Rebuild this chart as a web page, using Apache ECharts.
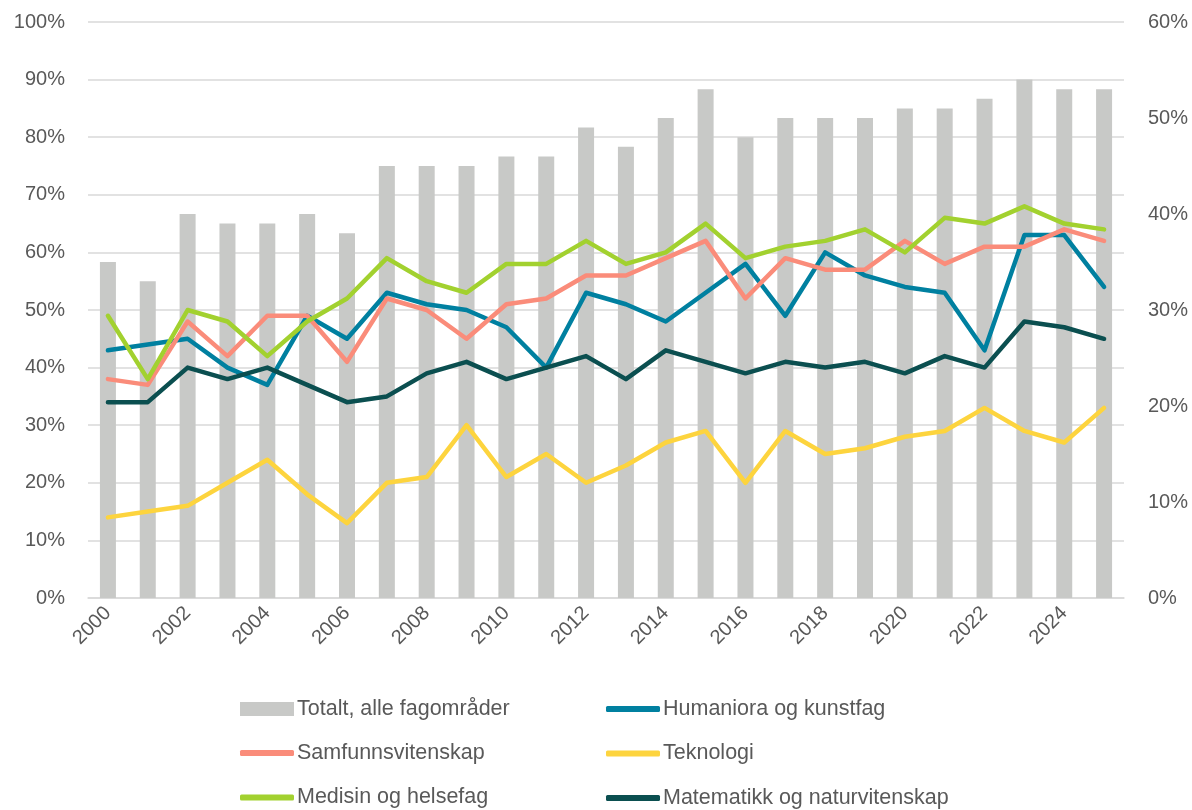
<!DOCTYPE html>
<html>
<head>
<meta charset="utf-8">
<script src="https://cdn.jsdelivr.net/npm/echarts@6/dist/echarts.min.js"></script>
<style>
  html, body { margin: 0; padding: 0; background: #fff; }
  #chart1 { width: 1192px; height: 810px; }
</style>
</head>
<body>
<div id="chart1"></div>
<script>
var years = ['2000','2001','2002','2003','2004','2005','2006','2007','2008','2009','2010','2011','2012',
             '2013','2014','2015','2016','2017','2018','2019','2020','2021','2022','2023','2024','2025'];
var totalt = [35,33,40,39,39,40,38,45,45,45,46,46,49,47,50,53,48,50,50,50,51,51,52,54,53,53];
var humaniora = [43,44,45,40,37,49,45,53,51,50,47,40,53,51,48,53,58,49,60,56,54,53,43,63,63,54];
var samfunn = [38,37,48,42,49,49,41,52,50,45,51,52,56,56,59,62,52,59,57,57,62,58,61,61,64,62];
var teknologi = [14,15,16,20,24,18,13,20,21,30,21,25,20,23,27,29,20,29,25,26,28,29,33,29,27,33];
var medisin = [49,38,50,48,42,48,52,59,55,53,58,58,62,58,60,65,59,61,62,64,60,66,65,68,65,64];
var matematikk = [34,34,40,38,40,37,34,35,39,41,38,40,42,38,43,41,39,41,40,41,39,42,40,48,47,45];

var font = 'Liberation Sans';
var txt = '#595959';

function line(name, data, color) {
  return {
    name: name, type: 'line', yAxisIndex: 0, data: data,
    symbol: 'none', z: 3,
    lineStyle: { color: color, width: 4.5, cap: 'round', join: 'round' },
    itemStyle: { color: color }
  };
}

// legend look shared by the three legend blocks
function legendBlock(left, top, h, names) {
  return {
    left: left, top: top, orient: 'vertical', height: 200, itemGap: 22.5, padding: 0,
    itemWidth: 54, itemHeight: h, icon: 'roundRect',
    textStyle: { fontSize: 21.5, lineHeight: 20, color: txt, fontFamily: font, padding: [0, 0, 0, -2] },
    data: names
  };
}

var chart = echarts.init(document.getElementById('chart1'));
var option = {
  animation: false,
  textStyle: { fontFamily: font },
  grid: { left: 88, right: 68, top: 22, bottom: 212 },
  legend: [
    legendBlock(240, 698, 14, [{ name: 'Totalt, alle fagområder', icon: 'rect' }]),
    legendBlock(240, 742, 6, ['Samfunnsvitenskap', 'Medisin og helsefag']),
    legendBlock(606, 698, 6, ['Humaniora og kunstfag', 'Teknologi', 'Matematikk og naturvitenskap'])
  ],
  xAxis: {
    type: 'category', data: years,
    axisTick: { show: false },
    axisLine: { lineStyle: { color: '#D9D9D9', width: 1.5 } },
    axisLabel: { interval: 1, rotate: 45, margin: 12, fontSize: 20, color: txt, fontFamily: font }
  },
  yAxis: [{
    type: 'value', min: 0, max: 100, interval: 10,
    axisLabel: { formatter: '{value}%', fontSize: 20, color: txt, margin: 23, fontFamily: font },
    splitLine: { lineStyle: { color: '#D9D9D9', width: 1.5 } },
    axisLine: { show: false }, axisTick: { show: false }
  }, {
    type: 'value', min: 0, max: 60, interval: 10, position: 'right',
    axisLabel: { formatter: '{value}%', fontSize: 20, color: txt, margin: 24, fontFamily: font },
    splitLine: { show: false },
    axisLine: { show: false }, axisTick: { show: false }
  }],
  series: [
    {
      name: 'Totalt, alle fagområder', type: 'bar', yAxisIndex: 1, data: totalt,
      barWidth: 16, z: 1,
      itemStyle: { color: '#C8C9C7' }
    },
    line('Humaniora og kunstfag', humaniora, '#0080A0'),
    line('Samfunnsvitenskap', samfunn, '#FA8C7A'),
    line('Teknologi', teknologi, '#FDD43E'),
    line('Medisin og helsefag', medisin, '#A2D12F'),
    line('Matematikk og naturvitenskap', matematikk, '#0B4F50')
  ]
};
chart.setOption(option);
</script>
</body>
</html>
